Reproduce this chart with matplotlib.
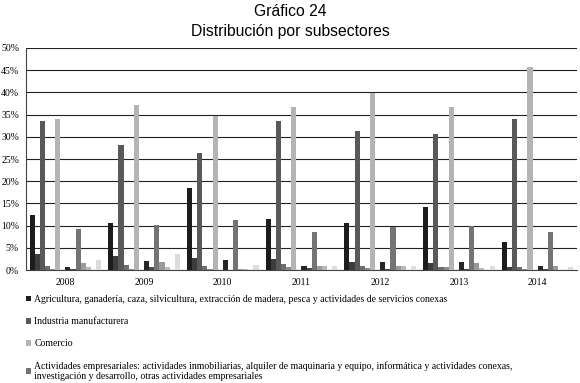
import numpy as np
import matplotlib
matplotlib.use('Agg')
import matplotlib.pyplot as plt
from matplotlib.patches import Patch

years = ['2008', '2009', '2010', '2011', '2012', '2013', '2014']

# participación (%) de cada subsector por año, 14 series
s01 = [12.3, 10.5, 18.5, 11.6, 10.5, 14.3, 6.3]   # Agricultura...
s02 = [3.7, 3.2, 2.8, 2.4, 1.7, 1.6, 0.6]
s03 = [33.5, 28.1, 26.4, 33.6, 31.4, 30.6, 33.9]  # Industria manufacturera
s04 = [1.0, 1.1, 0.9, 1.3, 0.8, 0.6, 0.6]
s05 = [0.2, 0.3, 0.2, 0.6, 0.4, 0.6, 0.3]
s06 = [34.0, 37.1, 34.6, 36.7, 39.8, 36.7, 45.8]  # Comercio
s07 = [0.0, 0.0, 0.0, 0.0, 0.0, 0.0, 0.0]
s08 = [0.6, 2.0, 2.3, 1.0, 1.8, 1.7, 0.8]
s09 = [0.3, 0.6, 0.1, 0.4, 0.2, 0.2, 0.2]
s10 = [9.2, 10.2, 11.2, 8.6, 9.6, 9.9, 8.6]       # Actividades empresariales
s11 = [1.5, 1.7, 0.3, 1.0, 0.8, 1.6, 0.8]
s12 = [0.6, 0.6, 0.2, 1.0, 0.8, 0.5, 0.0]
s13 = [0.0, 0.0, 0.0, 0.0, 0.0, 0.0, 0.0]
s14 = [2.2, 3.6, 1.1, 1.0, 1.0, 0.8, 0.6]

series = [s01, s02, s03, s04, s05, s06, s07, s08, s09, s10, s11, s12, s13, s14]
colors = ['#1c1c1c', '#3c3c3c', '#595959', '#6e6e6e', '#8c8c8c', '#b4b4b4', '#cccccc',
          '#262626', '#4a4a4a', '#747474', '#9a9a9a', '#b8b8b8', '#d0d0d0', '#dcdcdc']

legend_labels = [
    'Agricultura, ganadería, caza, silvicultura, extracción de madera, pesca y actividades de servicios conexas',
    'Industria manufacturera',
    'Comercio',
    'Actividades empresariales: actividades inmobiliarias, alquiler de maquinaria y equipo, informática y actividades conexas,\n'
    'investigación y desarrollo, otras actividades empresariales',
]
legend_idx = [0, 2, 5, 9]

serif = ['Liberation Serif', 'DejaVu Serif']
sans = ['Liberation Sans', 'DejaVu Sans']

fig = plt.figure(figsize=(5.8, 3.83), dpi=100)
ax = fig.add_axes([0.0448, 0.295, 0.9500, 0.5797])

x = np.arange(len(years))
n = len(series)
w = 0.065
for k in range(n):
    ax.bar(x + (k - (n - 1) / 2) * w, series[k], width=w, color=colors[k], zorder=3)

ax.set_xlim(-0.5, 6.5)
ax.set_ylim(0, 50)
ax.set_yticks(np.arange(0, 51, 5))
ax.set_yticklabels(['%d%%' % v for v in range(0, 51, 5)], fontfamily=serif, fontsize=7)
ax.set_xticks(x)
ax.set_xticklabels(years, fontfamily=serif, fontsize=7)
ax.tick_params(axis='x', length=0, pad=6)
ax.tick_params(axis='y', length=0, pad=5)
ax.grid(axis='y', color='#222222', linewidth=0.8, zorder=0)
ax.set_axisbelow(True)
for s in ['top', 'right']:
    ax.spines[s].set_visible(False)
ax.spines['left'].set_color('#444444')
ax.spines['bottom'].set_color('#444444')

fig.text(0.5, 0.970, 'Gráfico 24', ha='center', va='center', fontfamily=sans, fontsize=11.3)
fig.text(0.5, 0.918, 'Distribución por subsectores', ha='center', va='center', fontfamily=sans, fontsize=11.3)

handles = [Patch(facecolor=colors[i], edgecolor='none') for i in legend_idx]
fig.legend(handles, legend_labels, loc='upper left', bbox_to_anchor=(0.045, 0.230),
           frameon=False, prop={'family': serif, 'size': 7},
           handlelength=0.55, handleheight=0.55, handletextpad=0.3,
           labelspacing=1.35, borderpad=0, borderaxespad=0)

fig.savefig('out.png', dpi=100)
